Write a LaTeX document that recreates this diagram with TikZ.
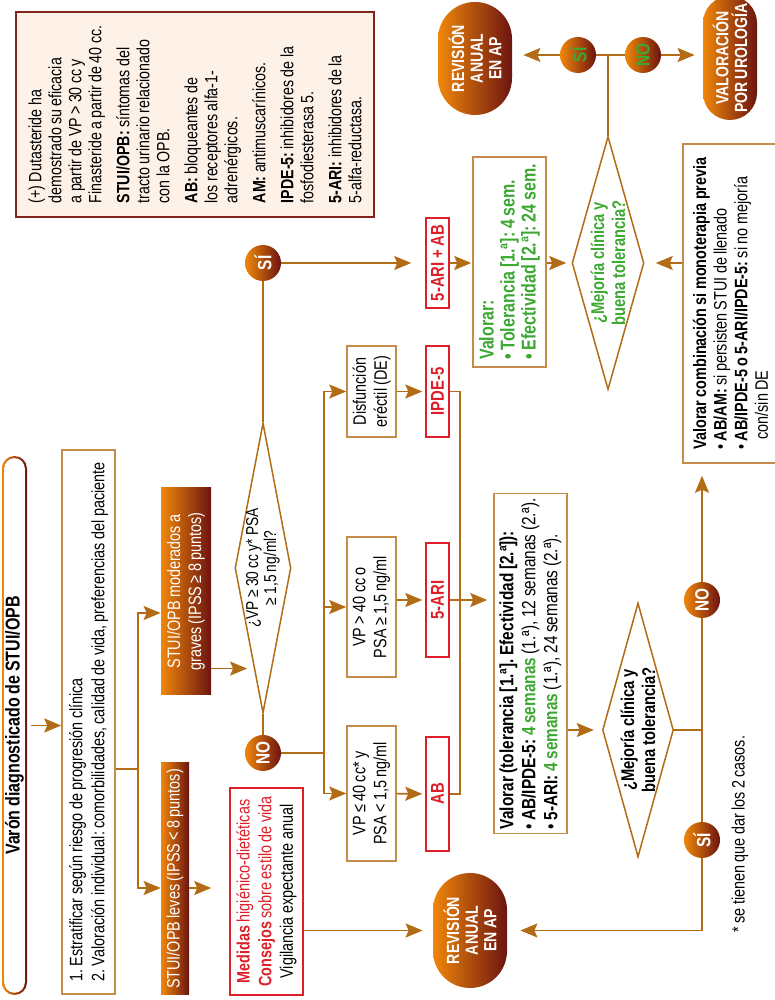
\documentclass[tikz,border=0pt]{standalone}
\usepackage{fontspec}
\setmainfont{Liberation Sans}[FakeStretch=0.8, WordSpace=0.85]
\frenchspacing
\usetikzlibrary{shapes.geometric,arrows.meta,calc}

\definecolor{linebrn}{RGB}{178,108,22}
\definecolor{boxbrn}{RGB}{196,140,72}
\definecolor{granate}{RGB}{108,20,16}
\definecolor{naranja}{RGB}{240,135,10}
\definecolor{rojo}{RGB}{222,30,40}
\definecolor{verde}{RGB}{60,168,50}
\definecolor{rosado}{RGB}{253,241,232}
\definecolor{bordeleg}{RGB}{130,35,30}

\tikzset{
	caja/.style={draw=boxbrn, line width=0.75pt, inner sep=1.5pt, align=center},
	cajaroja/.style={draw=rojo, line width=0.75pt, inner sep=0pt, text=rojo,
			font=\bfseries\fontsize{9.3}{11}\selectfont},
	degradado/.style={left color=naranja, right color=granate, text=white},
	pastilla/.style={degradado, inner sep=0pt, align=center, font=\bfseries\fontsize{8.8}{9.3}\selectfont},
	sino/.style={circle, degradado, minimum size=18pt, inner sep=0pt, font=\bfseries\fontsize{9.6}{10}\selectfont},
	rombo/.style={diamond, draw=linebrn, line width=0.75pt, inner sep=0pt},
	linea/.style={draw=linebrn, line width=0.8pt},
	flecha/.style={linea, -{Stealth[length=8.5pt,width=7pt,inset=1.5pt]}}
}

\begin{document}
\begin{tikzpicture}[x=0.5pt, y=0.5pt, every node/.style={font=\fontsize{9}{11}\selectfont}]
\begin{scope}[rotate=90, transform shape]
\useasboundingbox (0,0) rectangle (1000,-775);

\node[draw=bordeleg, fill=rosado, line width=0.75pt, minimum width=102.5pt, minimum height=179pt,
	align=left, inner sep=4.25pt, font=\fontsize{8.9}{10}\selectfont] (leyenda) at (885.5,-195)
	{(+) Dutasteride ha\\ demostrado su eficacia\\ a partir de VP > 30 cc y\\ Finasteride a partir de 40 cc.\\[4pt]
	\textbf{STUI/OPB:} síntomas del\\ tracto urinario relacionado\\ con la OPB.\\[4pt]
	\textbf{AB:} bloqueantes de\\ los receptores alfa-1-\\ adrenérgicos.\\[4pt]
	\textbf{AM:} antimuscarínicos.\\[4pt]
	\textbf{IPDE-5:} inhibidores de la\\ fosfodiesterasa 5.\\[4pt]
	\textbf{5-ARI:} inhibidores de la\\ 5-alfa-reductasa.};

\shade[left color=naranja, right color=granate, rounded corners=6.25pt] (5,-2) rectangle (544,-27);
\fill[white, rounded corners=5.15pt] (7.2,-4.2) rectangle (541.8,-24.8);
\node[minimum width=269.5pt, minimum height=12.5pt, font=\bfseries\fontsize{10}{11}\selectfont] (varon) at (274.5,-14.5) {Varón diagnosticado de STUI/OPB};

\node[caja, minimum width=272pt, minimum height=26.5pt, align=left, inner sep=1pt] (estratificar) at (278,-88.5)
	{1. Estratificar según riesgo de progresión clínica\\ 2. Valoración individual: comorbilidades, calidad de vida, preferencias del paciente};

\node[degradado, minimum width=103.5pt, minimum height=25pt, inner sep=0pt, align=center, font=\fontsize{9}{10.5}\selectfont] (moderados) at (408.5,-186)
	{STUI/OPB moderados a\\ graves (IPSS ≥ 8 puntos)};
\node[degradado, minimum width=116pt, minimum height=14pt, inner sep=0pt] (leves) at (121,-175) {STUI/OPB leves (IPSS < 8 puntos)};

\node[draw=rojo, line width=0.75pt, minimum width=103.5pt, minimum height=36.5pt, align=center, inner sep=1pt,
	font=\fontsize{9}{10.8}\selectfont] (medidas) at (108.5,-266.5)
	{\textcolor{rojo}{\textbf{Medidas} higiénico-dietéticas}\\ \textcolor{rojo}{\textbf{Consejos} sobre estilo de vida}\\ Vigilancia expectante anual};

\node[rombo, minimum width=145pt, minimum height=28pt] (vp30) at (432,-263) {};
\node[align=center, font=\fontsize{8.6}{9}\selectfont] (vp30t) at (vp30) {¿VP ≥ 30 cc y* PSA\\ ≥ 1,5 ng/ml?};

\node[sino] (si1) at (737,-263) {SÍ};
\node[sino] (no1) at (247,-263) {NO};

\node[caja, minimum width=45.5pt, minimum height=24.5pt, font=\fontsize{9}{10.5}\selectfont] (disf) at (608.5,-371.5) {Disfunción\\ eréctil (DE)};
\node[caja, minimum width=70pt, minimum height=24.5pt, font=\fontsize{9}{10.5}\selectfont] (vpmayor) at (393,-371.5) {VP > 40 cc o\\ PSA ≥ 1,5 ng/ml};
\node[caja, minimum width=67.5pt, minimum height=24.5pt, font=\fontsize{9}{10.5}\selectfont] (vpmenor) at (206.5,-371.5) {VP ≤ 40 cc* y\\ PSA < 1,5 ng/ml};

\node[cajaroja, minimum width=45.5pt, minimum height=11.5pt] (ipde) at (608.5,-437.5) {IPDE-5};
\node[cajaroja, minimum width=57pt, minimum height=11.5pt] (ari) at (400,-437.5) {5-ARI};
\node[cajaroja, minimum width=57pt, minimum height=11.5pt] (ab) at (206,-437.5) {AB};
\node[cajaroja, minimum width=45pt, minimum height=11.5pt] (ariab) at (737,-437.5) {5-ARI + AB};

\node[caja, minimum width=166.5pt, minimum height=36.5pt, align=left, inner sep=2.25pt,
	font=\fontsize{9.6}{11}\selectfont] (valorar) at (336.5,-530.5)
	{\textbf{Valorar (tolerancia [1.ª]. Efectividad [2.ª]):}\\
	•\,\textbf{AB/IPDE-5: \color{verde}4 semanas} (1.ª), 12 semanas (2.ª).\\
	•\,\textbf{5-ARI: \color{verde}4 semanas} (1.ª), 24 semanas (2.ª).};

\node[caja, minimum width=105pt, minimum height=36.5pt, align=left, inner sep=2.5pt, text=verde,
	font=\bfseries\fontsize{10}{10.5}\selectfont] (valorar2) at (738,-509.5)
	{Valorar:\\ • Tolerancia [1.ª]: 4 sem.\\ • Efectividad [2.ª]: 24 sem.};

\node[rombo, minimum width=127pt, minimum height=35.5pt] (mejoria) at (270,-638) {};
\node[align=center, font=\bfseries\fontsize{9.2}{10.5}\selectfont] (mejoriat) at (mejoria) {¿Mejoría clínica y\\ buena tolerancia?};

\node[rombo, minimum width=126.5pt, minimum height=36pt] (mejoria2) at (737,-608) {};
\node[align=center, text=verde, font=\bfseries\fontsize{9.2}{10.5}\selectfont] (mejoria2t) at (mejoria2) {¿Mejoría clínica y\\ buena tolerancia?};

\node[caja, minimum width=159.5pt, minimum height=47.5pt, align=left, inner sep=2.75pt,
	font=\fontsize{9}{10.3}\selectfont] (combinar) at (696.5,-730.5)
	{\textbf{Valorar combinación si monoterapia previa}\\
	• \textbf{AB/AM:} si persisten STUI de llenado\\
	• \textbf{AB/IPDE-5 o 5-ARI/IPDE-5:} si no mejoría\\
	\hspace*{5pt}con/sin DE};

\node[pastilla, minimum width=56.5pt, minimum height=37pt, rounded corners=18.5pt] (revision1) at (941.5,-475) {REVISIÓN\\ ANUAL\\ EN AP};
\node[pastilla, minimum width=62pt, minimum height=27pt, rounded corners=13.5pt] (urologia) at (942,-730) {VALORACIÓN\\ POR UROLOGÍA};
\node[pastilla, minimum width=57.5pt, minimum height=37pt, rounded corners=18.5pt] (revision2) at (69.5,-470) {REVISIÓN\\ ANUAL\\ EN AP};

\node[sino, text=verde] (si2) at (945,-578) {SÍ};
\node[sino, text=verde] (no2) at (945,-643) {NO};
\node[sino] (no3) at (400,-702) {NO};
\node[sino] (si3) at (160,-702) {SÍ};

\node[anchor=west, inner sep=0pt] (nota) at (67,-740) {* se tienen que dar los 2 casos.};

\draw[flecha] (varon.south) -- (varon.south |- estratificar.north);
\coordinate (reparto) at (231,-138);
\draw[linea] (estratificar.south -| reparto) -- (reparto);
\draw[flecha] (reparto) -| ([xshift=-10.75pt]moderados.north);
\draw[flecha] (reparto) -| ([xshift=-4.5pt]leves.north);
\draw[flecha, shorten >=9pt] ([xshift=-4.5pt]leves.south) -- ([xshift=-4.5pt]leves.south |- medidas.north);
\draw[flecha, shorten >=5pt] (revision2.north |- medidas.south) -- (revision2.north);

\coordinate (entrada) at ($(vp30.west)!0.31!(vp30.north)$);
\draw[flecha, shorten >=3.5pt] (moderados.south -| entrada) -- (entrada);
\draw[linea] (vp30.east) -- (si1);
\draw[flecha, shorten >=7pt] (si1) -- (si1 |- ariab.north);
\draw[flecha, shorten >=0.5pt] (ariab) -- (ariab |- valorar2.north);
\draw[flecha, shorten >=2.5pt] (valorar2.south -| mejoria2.north) -- (mejoria2.north);
\coordinate (cruce1) at (945,-608);
\draw[linea] (mejoria2.east) -- (cruce1) -- (si2);
\draw[linea] (cruce1) -- (no2);
\draw[flecha, shorten >=5.5pt] (si2) -- (si2 |- revision1.south);
\draw[flecha, shorten >=4pt] (no2) -- (no2 |- urologia.north);
\draw[flecha, shorten >=5.5pt] (combinar.north -| mejoria2.south) -- (mejoria2.south);

\draw[linea] (vp30.west) -- (no1);
\coordinate (cruce2) at (247,-324);
\draw[linea] (no1) -- (cruce2);
\draw[flecha] (cruce2) -| (vpmenor.north);
\draw[flecha] (cruce2) -| (disf.north);
\draw[flecha] (vpmayor.north |- cruce2) -- (vpmayor.north);
\draw[flecha, shorten >=1.5pt] (disf) -- (ipde);
\draw[flecha, shorten >=1.5pt] (ari.north |- vpmayor.south) -- (ari.north);
\draw[flecha, shorten >=1.5pt] (vpmenor) -- (ab);
\coordinate (cruce3) at (400,-460);
\draw[linea] (ab.south) |- (cruce3) -| (ipde.south);
\draw[flecha, shorten >=3pt] (ari.south) -- (ari.south |- valorar.north);
\draw[flecha, shorten >=4pt] (valorar.south -| mejoria.north) -- (mejoria.north);
\coordinate (cruce4) at (270,-702);
\draw[linea] (mejoria.south) -- (cruce4) -- (no3);
\draw[linea] (cruce4) -- (si3);
\draw[flecha, shorten >=6pt] (no3) -- (no3 -| combinar.west);
\draw[flecha, shorten >=6.5pt] (si3) -| (revision2.south);
\end{scope}
\end{tikzpicture}
\end{document}
